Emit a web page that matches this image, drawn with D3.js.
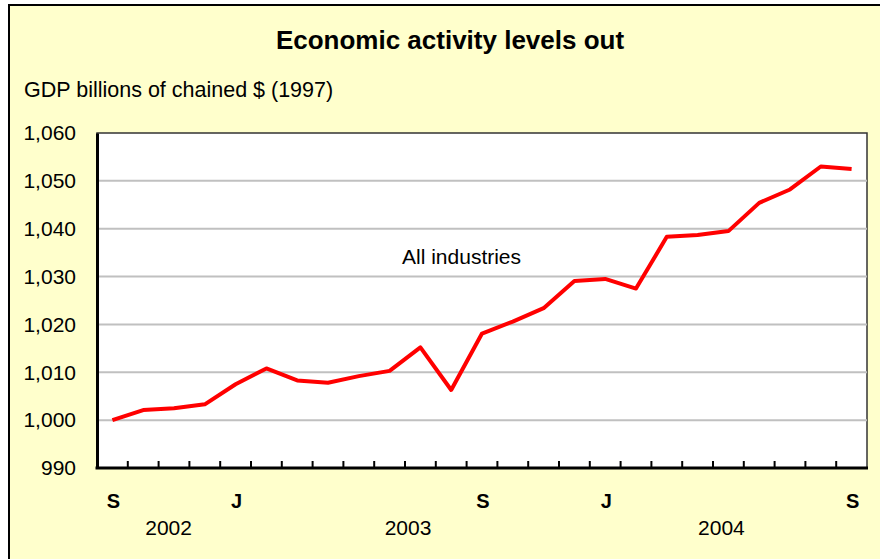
<!DOCTYPE html>
<html>
<head>
<meta charset="utf-8">
<script src="https://cdn.jsdelivr.net/npm/d3@7"></script>
<style>
  body { margin: 0; background: #fff; }
  svg text { font-family: "Liberation Sans", Arial, sans-serif; fill: #000; }
</style>
</head>
<body>
<div id="wrapper"></div>
<script>
// data: monthly GDP, Sep 2002 - Sep 2004
const months = [
  "2002-09", "2002-10", "2002-11", "2002-12",
  "2003-01", "2003-02", "2003-03", "2003-04", "2003-05", "2003-06",
  "2003-07", "2003-08", "2003-09", "2003-10", "2003-11", "2003-12",
  "2004-01", "2004-02", "2004-03", "2004-04", "2004-05", "2004-06",
  "2004-07", "2004-08", "2004-09"
]
const gdp = [
  1000.0, 1002.1, 1002.5, 1003.3,
  1007.5, 1010.8, 1008.3, 1007.8, 1009.2, 1010.3,
  1015.2, 1006.3, 1018.1, 1020.6, 1023.4, 1029.1,
  1029.5, 1027.5, 1038.3, 1038.7, 1039.5, 1045.4,
  1048.2, 1053.0, 1052.5
]
const yTicks = [990, 1000, 1010, 1020, 1030, 1040, 1050, 1060]
const monthLabels = {"2002-09": "S", "2003-01": "J", "2003-09": "S", "2004-01": "J", "2004-09": "S"}
const years = ["2002", "2003", "2004"]

// global dimensions
let dimensions = {
  width: 880,
  height: 559,
  margin: {
    top: 133,
    right: 13,
    bottom: 91,
    left: 97,
  },
}
dimensions.boundedWidth = dimensions.width
  - dimensions.margin.left
  - dimensions.margin.right
dimensions.boundedHeight = dimensions.height
  - dimensions.margin.top
  - dimensions.margin.bottom

function drawChart() {
  const svg = d3.select("#wrapper")
    .append("svg")
      .attr("width", dimensions.width)
      .attr("height", dimensions.height)

  // chart area background + border
  svg.append("rect")
    .attr("x", 9)
    .attr("y", 5)
    .attr("width", 900)
    .attr("height", 600)
    .attr("fill", "#ffffcc")
    .attr("stroke", "#000")
    .attr("stroke-width", 2)

  svg.append("text")
    .attr("x", 450)
    .attr("y", 49)
    .attr("text-anchor", "middle")
    .style("font-size", "26px")
    .style("font-weight", "bold")
    .text("Economic activity levels out")

  svg.append("text")
    .attr("x", 24)
    .attr("y", 97)
    .style("font-size", "21.5px")
    .text("GDP billions of chained $ (1997)")

  const bounds = svg.append("g")
    .attr("transform", "translate(" + dimensions.margin.left + "," + dimensions.margin.top + ")")

  // scales
  const x = d3.scaleBand()
    .domain(months)
    .range([0, dimensions.boundedWidth])
  const y = d3.scaleLinear()
    .domain([990, 1060])
    .range([dimensions.boundedHeight, 0])

  // plot area
  bounds.append("rect")
    .attr("width", dimensions.boundedWidth)
    .attr("height", dimensions.boundedHeight)
    .attr("fill", "#fff")
    .attr("stroke", "#333")
    .attr("stroke-width", 1.5)

  // gridlines
  bounds.append("g")
    .selectAll("line")
    .data(yTicks.slice(1, -1))
    .enter().append("line")
      .attr("x1", 0)
      .attr("x2", dimensions.boundedWidth)
      .attr("y1", d => y(d))
      .attr("y2", d => y(d))
      .attr("stroke", "#c0c0c0")
      .attr("stroke-width", 2)

  // y axis
  const yAxis = bounds.append("g")
    .call(d3.axisLeft(y)
      .tickValues(yTicks)
      .tickSize(0)
      .tickPadding(21)
      .tickFormat(d3.format(",")))
  yAxis.select(".domain")
    .attr("stroke", "#000")
    .attr("stroke-width", 3)
  yAxis.selectAll("text")
    .style("font-size", "21px")
    .attr("font-family", null)

  // x axis: ticks between months, pointing inward
  const xAxis = bounds.append("g")
    .attr("transform", "translate(0," + dimensions.boundedHeight + ")")
  xAxis.selectAll("line")
    .data(months.slice(1))
    .enter().append("line")
      .attr("x1", d => x(d))
      .attr("x2", d => x(d))
      .attr("y1", 0)
      .attr("y2", -7)
      .attr("stroke", "#000")
      .attr("stroke-width", 2)
  xAxis.append("line")
    .attr("x1", -1.5)
    .attr("x2", dimensions.boundedWidth + 1)
    .attr("stroke", "#000")
    .attr("stroke-width", 3)

  // month letters
  xAxis.selectAll(".month")
    .data(months.filter(m => monthLabels[m]))
    .enter().append("text")
      .attr("class", "month")
      .attr("x", d => x(d) + x.bandwidth() / 2 + 1)
      .attr("y", 40)
      .attr("text-anchor", "middle")
      .style("font-size", "20px")
      .style("font-weight", "bold")
      .text(d => monthLabels[d])

  // year labels centred under their months
  const yearCenter = yr => {
    const ms = months.filter(m => m.startsWith(yr))
    return (x(ms[0]) + x(ms[ms.length - 1]) + x.bandwidth()) / 2
  }
  const yearShift = {"2002": 10, "2003": 3, "2004": -7}
  xAxis.selectAll(".year")
    .data(years)
    .enter().append("text")
      .attr("class", "year")
      .attr("x", d => yearCenter(d) + yearShift[d])
      .attr("y", 67)
      .attr("text-anchor", "middle")
      .style("font-size", "21px")
      .text(d => d)

  // the line
  const line = d3.line()
    .x((d, i) => x(months[i]) + x.bandwidth() / 2)
    .y(d => y(d))
  bounds.append("path")
    .datum(gdp)
    .attr("d", line)
    .attr("fill", "none")
    .attr("stroke", "#ff0000")
    .attr("stroke-width", 4)
    .attr("stroke-linejoin", "round")

  // series label
  bounds.append("text")
    .attr("x", x("2003-07") - 3)
    .attr("y", y(1032.6))
    .style("font-size", "21px")
    .text("All industries")
}

drawChart()
</script>
</body>
</html>
